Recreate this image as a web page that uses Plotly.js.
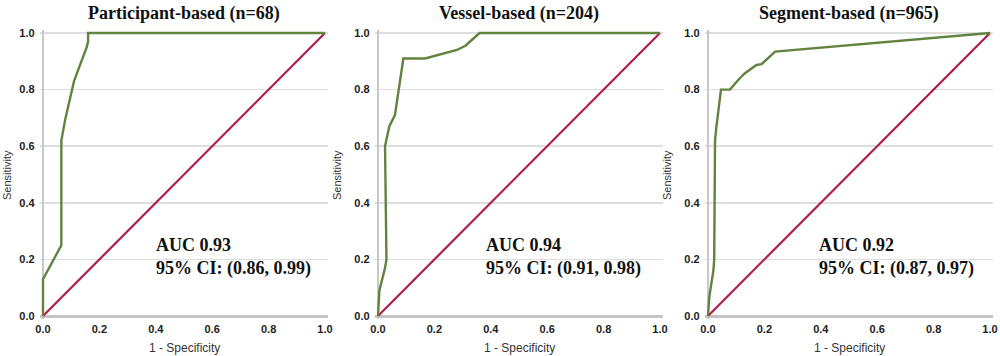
<!DOCTYPE html>
<html>
<head>
<meta charset="utf-8">
<script src="https://cdn.plot.ly/plotly-3.0.1.min.js"></script>
<style>html,body{margin:0;padding:0;background:#fff;}#chart{width:1000px;height:356px;}</style>
</head>
<body>
<div id="chart"></div>
<script>
// Panel titles
var panelTitles = ["Participant-based (n=68)", "Vessel-based (n=204)", "Segment-based (n=965)"];
var aucTexts = ["AUC 0.93<br>95% CI: (0.86, 0.99)", "AUC 0.94<br>95% CI: (0.91, 0.98)", "AUC 0.92<br>95% CI: (0.87, 0.97)"];

// ROC curves (1 - specificity, sensitivity)
var fpr1 = [0, 0, 0.065, 0.065, 0.08, 0.105, 0.11, 0.155, 0.16, 0.16, 1];
var tpr1 = [0, 0.13, 0.25, 0.62, 0.70, 0.80, 0.83, 0.95, 0.97, 1.0, 1.0];

var fpr2 = [0, 0.005, 0.025, 0.03, 0.025, 0.04, 0.06, 0.09, 0.167, 0.28, 0.31, 0.36, 1];
var tpr2 = [0, 0.09, 0.17, 0.20, 0.60, 0.67, 0.71, 0.91, 0.91, 0.94, 0.955, 1.0, 1.0];

var fpr3 = [0, 0.005, 0.019, 0.022, 0.025, 0.03, 0.046, 0.078, 0.107, 0.131, 0.172, 0.19, 0.238, 1];
var tpr3 = [0, 0.07, 0.16, 0.20, 0.62, 0.67, 0.80, 0.80, 0.834, 0.858, 0.887, 0.89, 0.934, 1.0];

// Reference diagonal
var diagX = [0, 1];
var diagY = [0, 1];

var tickVals = [0, 0.2, 0.4, 0.6, 0.8, 1.0];
var tickText = ["0.0", "0.2", "0.4", "0.6", "0.8", "1.0"];

(function () {
  var curves = [[fpr1, tpr1], [fpr2, tpr2], [fpr3, tpr3]];
  var green = "#62833f";
  var red = "#b01c4c";

  var W = 1000, H = 356;
  var x0px = [43, 378, 708];
  var unit = 282;
  var pad = 0.012;
  var yTopPx = 33, yBotPx = 316, yUnit = 283;

  var traces = [];
  var layout = {
    width: W, height: H,
    margin: {l: 0, r: 0, t: 0, b: 0},
    paper_bgcolor: "#ffffff",
    plot_bgcolor: "#ffffff",
    showlegend: false,
    font: {family: "Liberation Sans, Arial, sans-serif", color: "#333"},
    annotations: []
  };

  for (var i = 0; i < 3; i++) {
    var sfx = i === 0 ? "" : String(i + 1);
    traces.push({
      x: diagX, y: diagY, type: "scatter", mode: "lines",
      xaxis: "x" + sfx, yaxis: "y" + sfx,
      line: {color: red, width: 2.2}, hoverinfo: "skip"
    });
    traces.push({
      x: curves[i][0], y: curves[i][1], type: "scatter", mode: "lines",
      xaxis: "x" + sfx, yaxis: "y" + sfx,
      line: {color: green, width: 2.4}, hoverinfo: "skip"
    });
    var leftPx = x0px[i] - pad * unit, rightPx = x0px[i] + unit + pad * unit;
    var topPx = yTopPx - pad * yUnit, botPx = yBotPx + pad * yUnit;
    layout["xaxis" + sfx] = {
      domain: [leftPx / W, rightPx / W],
      range: [-pad, 1 + pad],
      anchor: "y" + sfx,
      showgrid: false,
      zeroline: true, zerolinecolor: "#c8c8c8", zerolinewidth: 2,
      showline: false, ticks: "",
      tickvals: tickVals, ticktext: tickText,
      tickfont: {family: "Liberation Sans, Arial, sans-serif", size: 11, color: "#222", weight: "bold"},
      ticklabelstandoff: 2,
      fixedrange: true
    };
    layout["yaxis" + sfx] = {
      domain: [(H - botPx) / H, (H - topPx) / H],
      range: [-pad, 1 + pad],
      anchor: "x" + sfx,
      showgrid: true, gridcolor: "#dedede", gridwidth: 1.5,
      zeroline: true, zerolinecolor: "#c4c4c4", zerolinewidth: 3,
      showline: false, ticks: "",
      tickvals: tickVals, ticktext: tickText,
      tickfont: {family: "Liberation Sans, Arial, sans-serif", size: 11, color: "#222", weight: "bold"},
      ticklabelstandoff: 4,
      fixedrange: true
    };
    var cx = (x0px[i] + unit / 2) / W;
    layout.annotations.push({
      text: panelTitles[i], xref: "paper", yref: "paper",
      x: cx, y: (H - 13) / H, xanchor: "center", yanchor: "middle", showarrow: false,
      font: {family: "Liberation Serif, Times New Roman, serif", size: 18, color: "#111", weight: "bold"}
    });
    layout.annotations.push({
      text: aucTexts[i], xref: "x" + sfx, yref: "y" + sfx,
      x: [0.395, 0.375, 0.385][i], y: 0.21, xanchor: "left", yanchor: "middle", align: "left", showarrow: false,
      font: {family: "Liberation Serif, Times New Roman, serif", size: 18, color: "#111", weight: "bold"}
    });
    layout.annotations.push({
      text: "1 - Specificity", xref: "paper", yref: "paper",
      x: cx, y: (H - 348) / H, xanchor: "center", yanchor: "middle", showarrow: false,
      font: {family: "Liberation Sans, Arial, sans-serif", size: 12, color: "#333"}
    });
    layout.annotations.push({
      text: "Sensitivity", xref: "paper", yref: "paper",
      x: [7, 337, 667][i] / W, y: (H - 175) / H, xanchor: "center", yanchor: "middle", showarrow: false,
      textangle: -90,
      font: {family: "Liberation Sans, Arial, sans-serif", size: 11, color: "#333"}
    });
  }

  Plotly.newPlot("chart", traces, layout, {displayModeBar: false, staticPlot: true});
})();
</script>
</body>
</html>
